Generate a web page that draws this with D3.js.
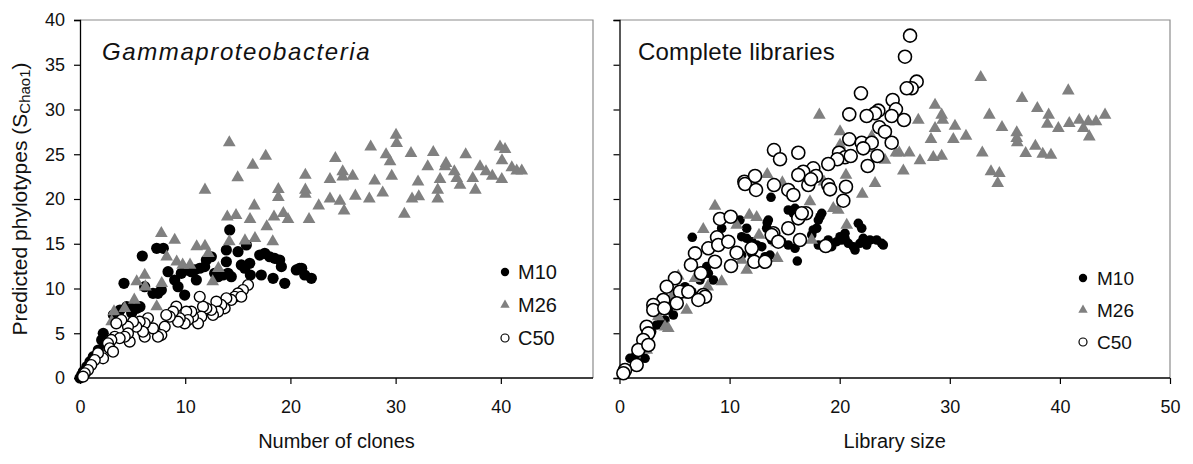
<!DOCTYPE html>
<html>
<head>
<meta charset="utf-8">
<script src="https://cdn.jsdelivr.net/npm/d3@7"></script>
<style>
  body { margin: 0; background: #fff; }
  svg { display: block; font-family: "Liberation Sans", Arial, sans-serif; }
</style>
</head>
<body>
<svg id="chart" width="1193" height="464"></svg>
<script>
// Series labels and axis ticks
const seriesNames = ["M10", "M26", "C50"];
const yTicks = [0, 5, 10, 15, 20, 25, 30, 35, 40];
const xTicksLeft = [0, 10, 20, 30, 40];
const xTicksRight = [0, 10, 20, 30, 40, 50];

// Gammaproteobacteria: [number of clones, predicted phylotypes]
const gammaM10 = [[0,0],[0.16,0.34],[0.31,0.7],[0.64,1.26],[0.95,1.82],[1.26,2.38],[1.74,3.13],[2.06,4.25],[2.21,4.99],[2.38,3.88],[3.17,7.04],[3.64,7.04],[3.8,7.6],[4.44,7.97],[4.91,7.79],[4.91,7.26],[5.39,7.79],[5.7,7.97],[4.18,10.58],[5.92,13.63],[7.29,14.49],[7.92,14.49],[6.15,10.2],[6.94,9.46],[7.41,9.46],[7.73,9.83],[8.37,11.88],[9.0,10.95],[9.32,10.2],[9.95,9.27],[9.63,11.7],[10.1,12.07],[10.58,11.88],[11.06,10.95],[10.9,12.07],[11.38,12.26],[11.85,12.44],[12.01,13.18],[12.48,13.55],[12.8,11.7],[13.12,11.32],[13.59,11.51],[13.91,12.99],[14.07,11.7],[14.38,11.32],[13.91,14.3],[14.23,16.54],[15.02,14.11],[15.33,12.63],[15.66,12.26],[15.81,14.86],[16.13,12.82],[16.19,11.51],[17.23,11.51],[17.08,13.74],[17.56,13.93],[18.03,13.55],[18.51,13.37],[18.98,13.18],[19.14,12.44],[18.35,11.14],[19.46,10.58],[20.56,12.07],[20.88,12.26],[21.36,11.51],[21.99,11.14],[21.07,12.26]];
const gammaM26 = [[14.19,26.29],[17.65,24.8],[16.42,23.8],[14.99,22.38],[11.88,21.01],[18.85,21.08],[18.85,20.19],[21.42,22.68],[21.42,21.01],[21.42,20.56],[24.27,24.55],[23.76,22.2],[24.97,23.05],[24.97,22.49],[25.92,22.57],[27.63,25.84],[30.04,27.15],[30.1,26.22],[29.09,24.95],[29.47,24.17],[29.63,22.57],[28.01,22.04],[28.77,20.7],[26.17,20.34],[27.5,20.03],[23.76,20.03],[24.71,19.78],[25.1,18.69],[22.69,19.25],[21.77,17.73],[31.46,25.11],[33.58,25.22],[33.05,23.61],[34.79,23.99],[34.7,23.61],[36.66,24.95],[32.13,21.93],[34.22,22.2],[31.56,20.03],[32.2,20.26],[34.0,21.01],[34.0,20.03],[30.83,18.32],[35.58,23.05],[35.81,22.31],[36.12,21.56],[37.33,22.31],[37.58,21.01],[38.02,23.61],[38.59,23.05],[39.19,22.57],[40.09,22.2],[39.92,25.84],[40.4,25.55],[40.11,24.28],[41.04,23.5],[41.51,23.16],[41.99,23.16],[14.0,18.02],[14.83,18.18],[16.16,17.73],[16.57,19.25],[18.44,18.02],[19.33,18.4],[19.77,17.73],[17.75,16.91],[14.19,15.23],[15.68,15.34],[16.63,15.61],[18.32,15.23],[11.88,14.75],[12.2,13.93],[7.73,16.17],[9.0,15.42],[11.09,14.67],[8.24,13.55],[9.19,12.99],[9.76,12.63],[10.46,12.63],[5.39,10.76],[6.21,10.2],[7.29,7.97],[5.16,8.72],[3.23,7.41],[3.01,6.29],[12.61,10.76],[13.15,12.26],[7.77,10.58],[4.25,7.79],[6.15,11.51]];
const gammaC50 = [[15.97,10.39],[15.49,9.83],[15.02,9.46],[14.71,9.08],[15.33,9.08],[14.38,8.72],[13.91,8.91],[13.75,7.79],[13.43,8.16],[12.96,8.53],[13.12,7.41],[12.64,7.04],[12.48,7.6],[12.01,7.79],[11.69,7.97],[11.38,9.08],[11.53,6.85],[11.22,6.11],[10.74,6.85],[10.58,7.41],[10.1,7.41],[10.27,6.48],[9.95,6.11],[9.48,6.67],[9.32,6.29],[9.15,7.97],[8.84,7.41],[8.53,6.85],[8.2,7.04],[8.05,5.73],[7.73,4.8],[7.41,4.61],[6.94,5.55],[6.46,6.67],[6.15,6.11],[6.15,4.61],[5.99,5.17],[5.67,6.29],[5.35,5.73],[5.04,6.29],[4.56,5.73],[4.72,4.06],[4.56,4.99],[4.25,4.61],[3.93,6.48],[3.45,6.11],[3.3,4.61],[3.77,4.44],[2.98,4.25],[2.66,3.88],[2.82,3.32],[3.14,2.94],[2.19,2.2],[1.71,2.76],[1.4,2.01],[1.07,1.45],[0.76,0.89],[0.45,0.53],[0.29,0.15]];

// Complete libraries: [library size, predicted phylotypes]
const libM10 = [[13.76,20.19],[15.33,18.77],[15.94,18.96],[15.79,18.4],[16.55,18.4],[18.37,18.4],[18.06,17.65],[13.52,17.65],[13.37,16.73],[10.94,17.65],[11.55,16.73],[9.28,16.73],[6.61,15.72],[11.1,15.79],[11.55,15.61],[12.01,15.23],[12.46,14.86],[12.92,14.67],[13.67,13.74],[13.06,12.99],[12.31,12.82],[11.1,13.74],[12.01,13.93],[14.73,15.23],[15.33,14.86],[15.94,14.49],[16.15,13.07],[17.6,16.54],[17.91,16.73],[17.46,15.98],[18.06,14.86],[18.66,14.86],[19.27,14.67],[19.73,15.23],[20.18,15.42],[20.48,15.61],[20.78,15.05],[21.24,14.67],[21.39,14.3],[21.84,15.05],[22.14,15.61],[22.45,14.86],[22.75,15.42],[23.36,15.42],[23.81,15.05],[23.96,14.86],[21.69,17.28],[22.0,16.73],[20.48,16.17],[20.03,15.79],[18.96,15.42],[7.92,12.44],[8.07,11.7],[8.52,10.95],[7.31,10.95],[7.16,8.53],[5.95,10.2],[6.56,9.64],[7.01,9.08],[5.34,9.08],[5.04,8.72],[4.43,7.6],[4.89,7.04],[4.13,6.48],[3.83,6.29],[2.92,5.17],[2.62,4.99],[3.38,5.92],[2.02,3.5],[1.41,2.38],[0.95,2.2],[2.32,2.2],[0.5,0.89],[0.2,0.34],[13.22,13.55],[13.82,15.42],[18.21,18.02],[13.42,17.35]];
const libM26 = [[32.81,33.6],[40.76,32.1],[36.56,31.25],[37.95,30.13],[38.98,29.39],[38.86,28.38],[39.86,27.9],[40.85,28.46],[41.76,28.83],[42.58,28.64],[43.28,28.64],[44.1,29.39],[42.13,27.9],[42.67,26.96],[33.59,29.39],[34.74,28.01],[36.08,27.41],[36.08,26.78],[36.13,26.29],[37.77,25.92],[36.89,25.11],[38.44,25.03],[39.19,24.92],[32.95,25.17],[33.74,23.05],[34.5,22.87],[34.35,21.75],[28.66,30.5],[29.26,29.39],[29.36,28.83],[28.66,27.9],[30.47,28.16],[31.47,27.04],[30.32,26.67],[28.29,26.67],[27.14,28.83],[26.32,25.17],[25.41,25.17],[25.11,25.17],[27.29,24.28],[28.5,24.66],[29.26,24.8],[25.78,23.16],[23.21,21.75],[22.05,20.56],[20.57,22.68],[18.15,29.39],[20.03,27.52],[20.03,26.03],[22.91,26.96],[22.75,25.66],[24.11,24.36],[13.42,22.76],[14.79,21.82],[18.57,21.93],[17.3,19.7],[19.42,18.96],[19.87,18.77],[8.67,19.22],[11.79,18.21],[12.46,17.96],[7.61,16.61],[10.64,17.09],[12.67,15.98],[14.28,15.12],[17.46,15.42],[20.64,17.09],[11.1,13.18],[14.33,13.37],[11.55,12.07],[9.28,10.76],[8.01,10.2],[6.86,11.14],[6.1,7.6],[4.13,5.73],[4.43,5.55],[3.52,6.85],[5.65,9.27],[4.74,9.08],[2.47,3.13],[5.34,11.4]];
const libC50 = [[26.39,38.25],[25.93,35.9],[26.99,33.11],[26.54,32.37],[26.09,32.37],[21.93,31.81],[24.81,31.06],[25.11,30.02],[23.51,29.87],[23.21,29.58],[22.45,29.27],[20.87,29.46],[24.72,29.27],[25.84,28.83],[23.6,28.01],[24.11,27.52],[24.72,26.29],[20.87,26.67],[22.0,26.29],[22.91,26.29],[22.14,25.66],[19.94,25.17],[20.48,24.66],[21.0,24.8],[19.78,24.44],[18.96,23.91],[23.42,24.8],[22.54,23.69],[14.03,25.47],[14.58,24.44],[16.24,25.17],[17.6,23.43],[16.69,23.05],[16.24,22.68],[17.85,22.57],[17.15,21.56],[17.39,22.2],[18.96,21.56],[19.12,21.08],[20.57,21.37],[20.33,19.81],[14.03,21.56],[15.33,21.01],[15.79,20.45],[16.94,18.4],[16.24,17.84],[16.55,18.4],[15.33,16.73],[13.97,16.17],[11.34,21.93],[11.4,21.68],[12.31,22.57],[12.4,21.01],[9.13,17.77],[10.1,18.02],[8.86,15.72],[8.07,14.49],[8.97,14.86],[9.88,15.23],[10.64,14.0],[10.13,12.51],[6.86,13.93],[7.4,11.7],[6.49,12.63],[8.67,12.99],[12.01,14.49],[12.24,12.99],[13.22,12.99],[13.82,15.98],[14.42,15.23],[16.39,15.42],[18.73,14.75],[5.04,11.14],[4.29,10.2],[5.49,9.64],[5.2,8.35],[6.25,9.64],[7.61,9.27],[7.77,9.08],[7.16,8.72],[3.98,8.72],[3.07,8.16],[3.07,7.6],[2.47,5.73],[2.62,4.99],[2.16,4.25],[1.71,3.13],[2.62,3.69],[1.56,1.45],[0.5,0.89],[0.35,0.53],[4.07,7.79]];

const svg = d3.select("#chart");
const TRI_GREY = "#808080";

const panels = [
  {
    left: 80, right: 593, top: 20, bottom: 378, xMax: 48.76,
    xTicks: xTicksLeft, yLabels: true,
    title: "Gammaproteobacteria", italic: true, titleX: 102, titleSpacing: 1.6,
    xTitle: "Number of clones",
    m10: gammaM10, m26: gammaM26, c50: gammaC50,
    rFill: 5.6, rOpen: 5.4, openStroke: 1.4, triSize: 70,
    legend: { x: 505, y0: 272, dy: 33, fs: 20, tx: 518 }
  },
  {
    left: 619.5, right: 1170, top: 20, bottom: 378, xMax: 50,
    xTicks: xTicksRight, yLabels: false,
    title: "Complete libraries", italic: false, titleX: 638, titleSpacing: 0.2,
    xTitle: "Library size",
    m10: libM10, m26: libM26, c50: libC50,
    rFill: 4.8, rOpen: 6.5, openStroke: 1.6, triSize: 70,
    legend: { x: 1083, y0: 278, dy: 32, fs: 19, tx: 1097 }
  }
];

panels.forEach(p => {
  const x = d3.scaleLinear().domain([0, p.xMax]).range([p.left, p.right]);
  const y = d3.scaleLinear().domain([0, 40]).range([p.bottom, p.top]);
  const g = svg.append("g");

  // grey frame on top and right
  g.append("path")
    .attr("d", `M${p.left},${p.top}H${p.right}V${p.bottom}`)
    .attr("fill", "none").attr("stroke", "#8c8c8c").attr("stroke-width", 1.2);

  const yAxis = d3.axisLeft(y).tickValues(yTicks).tickSize(6).tickPadding(9)
    .tickFormat(p.yLabels ? d3.format("d") : () => "");
  const xAxis = d3.axisBottom(x).tickValues(p.xTicks).tickSize(6).tickPadding(16)
    .tickFormat(d3.format("d"));

  const gy = g.append("g").attr("transform", `translate(${p.left},0)`).call(yAxis);
  const gx = g.append("g").attr("transform", `translate(0,${p.bottom})`).call(xAxis);
  [gx, gy].forEach(a => {
    a.select(".domain").attr("stroke", "#000").attr("stroke-width", 1.3);
    a.selectAll(".tick line").attr("stroke", "#000").attr("stroke-width", 1.2);
    a.selectAll("text").attr("font-size", 18).attr("fill", "#111")
      .attr("font-family", "Liberation Sans, Arial, sans-serif");
  });
  gx.select(".domain").attr("d", `M${p.left},0H${p.right}`);

  // series: M10 filled, M26 grey triangles, C50 open circles
  g.append("g").selectAll("circle").data(p.m10).join("circle")
    .attr("cx", d => x(d[0])).attr("cy", d => y(d[1])).attr("r", p.rFill)
    .attr("fill", "#000");
  const tri = d3.symbol().type(d3.symbolTriangle).size(p.triSize);
  g.append("g").selectAll("path").data(p.m26).join("path")
    .attr("d", tri).attr("fill", TRI_GREY)
    .attr("transform", d => `translate(${x(d[0])},${y(d[1])})`);
  g.append("g").selectAll("circle").data(p.c50).join("circle")
    .attr("cx", d => x(d[0])).attr("cy", d => y(d[1])).attr("r", p.rOpen)
    .attr("fill", "#fff").attr("stroke", "#000").attr("stroke-width", p.openStroke);

  // panel title
  g.append("text").attr("x", p.titleX).attr("y", 60)
    .attr("font-size", 24).attr("font-style", p.italic ? "italic" : "normal")
    .attr("letter-spacing", p.titleSpacing)
    .attr("fill", "#111").text(p.title);

  // x axis title
  g.append("text").attr("x", (p.left + p.right) / 2).attr("y", 448)
    .attr("text-anchor", "middle").attr("font-size", 20).attr("fill", "#111")
    .text(p.xTitle);

  // legend
  const L = p.legend;
  const lg = g.append("g");
  seriesNames.forEach((name, i) => {
    const cy = L.y0 + i * L.dy;
    if (i === 0) {
      lg.append("circle").attr("cx", L.x).attr("cy", cy).attr("r", 4.2).attr("fill", "#000");
    } else if (i === 1) {
      lg.append("path").attr("d", d3.symbol().type(d3.symbolTriangle).size(38))
        .attr("fill", TRI_GREY).attr("transform", `translate(${L.x},${cy})`);
    } else {
      lg.append("circle").attr("cx", L.x).attr("cy", cy).attr("r", 4)
        .attr("fill", "#fff").attr("stroke", "#000").attr("stroke-width", 1.2);
    }
    lg.append("text").attr("x", L.tx).attr("y", cy).attr("dy", "0.35em")
      .attr("font-size", L.fs).attr("fill", "#111").text(name);
  });
});

// shared y axis title
const yt = svg.append("text")
  .attr("transform", "translate(27,199) rotate(-90)")
  .attr("text-anchor", "middle").attr("font-size", 21).attr("fill", "#111");
yt.append("tspan").text("Predicted phylotypes (S");
yt.append("tspan").attr("font-size", 15).attr("dy", 3).text("Chao1");
yt.append("tspan").attr("dy", -3).text(")");
</script>
</body>
</html>
